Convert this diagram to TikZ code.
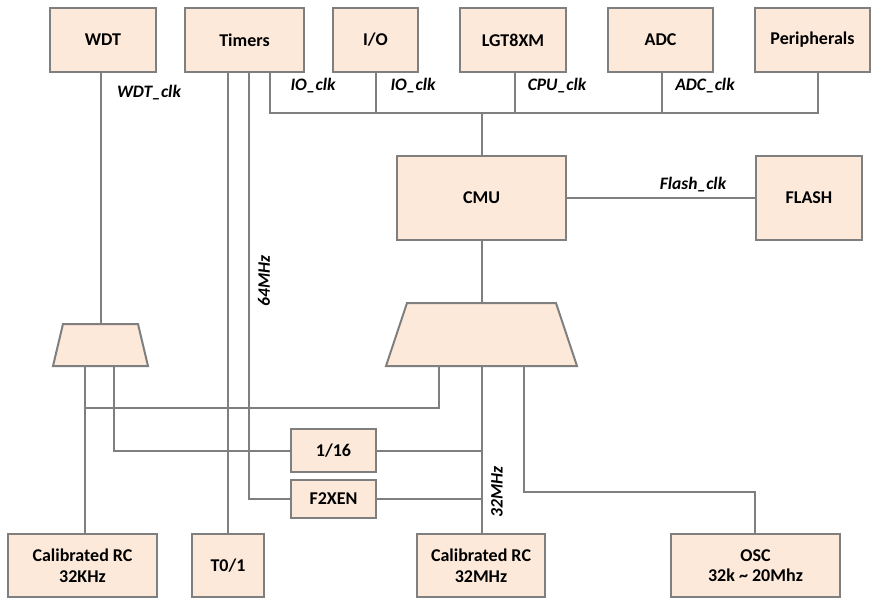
\documentclass[tikz,border=0pt]{standalone}
\usepackage{fontspec}
\setmainfont{Carlito}
\definecolor{boxfill}{HTML}{FCE9DA}
\definecolor{linegray}{HTML}{7F7F7F}
\tikzset{
  blk/.style={draw=linegray, fill=boxfill, line width=2pt, inner sep=0pt, outer sep=0pt,
    font=\fontsize{18}{20.5}\selectfont\bfseries, align=center},
  muxshape/.style={draw=linegray, fill=boxfill, line width=2pt, line join=miter},
  wire/.style={draw=linegray, line width=2pt},
  lbl/.style={font=\fontsize{17.5}{20}\selectfont\bfseries\itshape, inner sep=0pt}
}
\begin{document}
\begin{tikzpicture}[x=1pt,y=-1pt]
\useasboundingbox (0,0) rectangle (872,599);
% top row
\node[blk, minimum width=106pt, minimum height=64pt] (wdt) at (103,40) {WDT};
\node[blk, minimum width=119pt, minimum height=64pt] (timers) at (244.5,40) {Timers};
\node[blk, minimum width=85pt, minimum height=64pt] (io) at (375.5,40) {I/O};
\node[blk, minimum width=106pt, minimum height=64pt] (lgt) at (513,40) {LGT8XM};
\node[blk, minimum width=105pt, minimum height=64pt] (adc) at (660.5,40) {ADC};
\node[blk, minimum width=115pt, minimum height=64pt] (periph) at (812.5,40) {Peripherals};
% middle
\node[blk, minimum width=169pt, minimum height=84pt] (cmu) at (481.5,198) {CMU};
\node[blk, minimum width=106pt, minimum height=84pt] (flash) at (809,198) {FLASH};
% multiplexers
\draw[muxshape] (63,324) -- (138,324) -- (148,366) -- (53,366) -- cycle;
\coordinate (mux1n) at (100.5,324);
\coordinate (mux1s) at (100.5,366);
\draw[muxshape] (407,303) -- (556,303) -- (577,366) -- (386,366) -- cycle;
\coordinate (mux2n) at (481.5,303);
\coordinate (mux2s) at (481.5,366);
\node[blk, minimum width=85pt, minimum height=43pt] (d16) at (333.5,450.5) {1/16};
\node[blk, minimum width=85pt, minimum height=38pt] (f2x) at (333.5,499) {F2XEN};
% bottom row
\node[blk, minimum width=149pt, minimum height=63pt] (rc32k) at (82.5,565.5) {Calibrated RC\\32KHz};
\node[blk, minimum width=72pt, minimum height=63pt] (t01) at (228,565.5) {T0/1};
\node[blk, minimum width=128pt, minimum height=63pt] (rc32m) at (481,565.5) {Calibrated RC\\32MHz};
\node[blk, minimum width=169pt, minimum height=63pt] (osc) at (755.5,565.5) {OSC\\32k \textasciitilde{} 20Mhz};
% coordinates
\coordinate (busL) at (270,113);
\coordinate (busR) at (818,113);
\coordinate (m1a) at ([xshift=-15.5pt]mux1s);
\coordinate (m1b) at ([xshift=13.5pt]mux1s);
\coordinate (m2a) at ([xshift=-42.5pt]mux2s);
\coordinate (m2b) at (mux2s);
\coordinate (m2c) at ([xshift=42.5pt]mux2s);
\coordinate (rise) at (755,492);
\coordinate (join1) at (85,408);
% wires
\draw[wire] (wdt.south -| mux1n) -- (mux1n);
\draw[wire] (t01.north |- timers.south) -- (t01.north);
\draw[wire] ([xshift=4.5pt]timers.south) |- (f2x.west);
\draw[wire] (busL |- timers.south) -- (busL) -- (busR) -- (busR |- periph.south);
\draw[wire] (io.south) -- (io.south |- busL);
\draw[wire] ([xshift=2pt]lgt.south) -- ([xshift=2pt]lgt.south |- busL);
\draw[wire] ([xshift=1.5pt]adc.south) -- ([xshift=1.5pt]adc.south |- busL);
\draw[wire] (cmu.north) -- (cmu.north |- busL);
\draw[wire] (cmu.east) -- (flash.west);
\draw[wire] (cmu.south) -- (mux2n);
\draw[wire] (m1a) -- (m1a |- rc32k.north);
\draw[wire] (m2a) |- (join1);
\draw[wire] (m1b) |- (d16.west);
\draw[wire] (m2b) -- (m2b |- rc32m.north);
\draw[wire] (d16.east) -- (d16.east -| m2b);
\draw[wire] (f2x.east) -- (f2x.east -| m2b);
\draw[wire] (m2c) |- (rise) -- (rise |- osc.north);
% labels
\node[lbl] (lwdt) at (149,93) {WDT\_clk};
\node[lbl] (lio1) at (313,86) {IO\_clk};
\node[lbl] (lio2) at (413,86) {IO\_clk};
\node[lbl] (lcpu) at (557,86) {CPU\_clk};
\node[lbl] (ladc) at (705,86) {ADC\_clk};
\node[lbl] (lfl) at (693,185) {Flash\_clk};
\node[lbl, rotate=90] (l64) at (264,281) {64MHz};
\node[lbl, rotate=90] (l32) at (497,492) {32MHz};
\end{tikzpicture}
\end{document}
